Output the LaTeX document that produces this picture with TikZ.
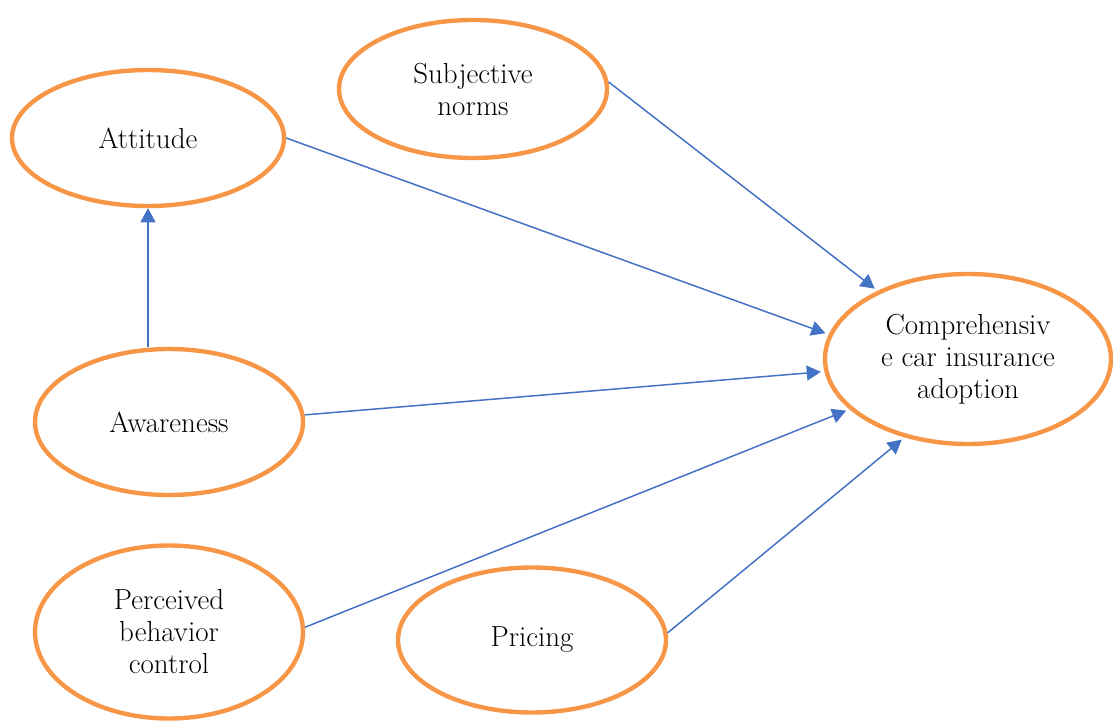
\documentclass[tikz,border=0pt]{standalone}
\usepackage{fontspec}
\usepackage{tikz}
\usetikzlibrary{arrows.meta}
\usetikzlibrary{shapes.geometric}
\definecolor{morange}{RGB}{247, 150, 70}
\definecolor{mblue}{RGB}{68, 114, 196}
\tikzset{factor/.style = {draw = morange, line width = 2.5pt, ellipse, inner sep = 0,
                          align = center, font = \fontsize{16.5}{18.2}\selectfont}}
\tikzset{link/.style = {draw = mblue, line width = 0.85pt,
                        -{Triangle[length = 8pt, width = 8.5pt]}, shorten > = 2pt}}

\begin{document}
\begin{tikzpicture}[x = 0.02cm, y = -0.02cm]
    \useasboundingbox (0, 0) rectangle (1113, 723);

    \node [factor, minimum width = 272*0.02cm, minimum height = 136*0.02cm] (att) at (148, 138) {Attitude};
    \node [factor, minimum width = 268*0.02cm, minimum height = 138*0.02cm] (subj) at (473, 89) {Subjective\\norms};
    \node [factor, minimum width = 268*0.02cm, minimum height = 146*0.02cm] (aw) at (169, 422) {Awareness};
    \node [factor, minimum width = 268*0.02cm, minimum height = 173*0.02cm] (pbc) at (169, 632) {Perceived\\behavior\\control};
    \node [factor, minimum width = 268*0.02cm, minimum height = 145*0.02cm] (pri) at (532, 640) {Pricing};
    \node [factor, minimum width = 286*0.02cm, minimum height = 170*0.02cm] (adopt) at (968, 359) {Comprehensiv\\e car insurance\\adoption};

    \draw [link, shorten > = 0pt] (aw.north -| att) -- (att.south);
    \draw [link] (att.east) -- (adopt.170);
    \draw [link] (subj.3) -- (adopt.143);
    \draw [link] (aw.3) -- (adopt.185);
    \draw [link] (pbc.2) -- (adopt.203);
    \draw [link] (pri.3) -- (adopt.231);
  \end{tikzpicture}
\end{document}
